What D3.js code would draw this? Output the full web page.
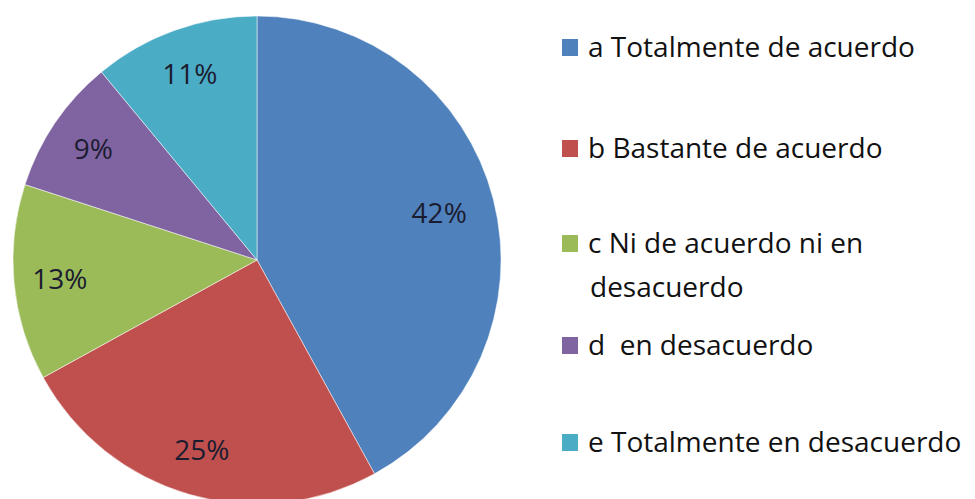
<!DOCTYPE html>
<html>
<head>
<meta charset="utf-8">
<script src="https://cdn.jsdelivr.net/npm/d3@7"></script>
<style>
  body { margin: 0; background: #fff; }
  text { font-family: "Open Sans", sans-serif; }
</style>
</head>
<body>
<div id="chart"></div>
<script>
const categories = [
    'a Totalmente de acuerdo',
    'b Bastante de acuerdo',
    'c Ni de acuerdo ni en desacuerdo',
    'd  en desacuerdo',
    'e Totalmente en desacuerdo'
];
const values = [42, 25, 13, 9, 11];
const colors = ['#4f81bd', '#c0504d', '#9bbb59', '#8064a2', '#4bacc6'];

const width = 975, height = 499;
const radius = 244;

const svg = d3.select('#chart')
    .append('svg')
    .attr('width', width)
    .attr('height', height);

const g = svg.append('g')
    .attr('transform', `translate(257, 260)`);

const color = d3.scaleOrdinal()
    .domain(categories)
    .range(colors);

const pie = d3.pie()
    .value(d => d.value)
    .sort(null);

const data = categories.map((c, i) => ({ name: c, value: values[i] }));
const total = d3.sum(values);

const arc = d3.arc()
    .outerRadius(radius)
    .innerRadius(0);

// centroid of this arc sits at ~198px from the centre
const labelArc = d3.arc()
    .outerRadius(396)
    .innerRadius(0);

const slices = g.selectAll('.pie')
    .data(pie(data))
    .enter()
    .append('g')
    .attr('class', 'pie');

slices.append('path')
    .attr('d', arc)
    .attr('fill', d => color(d.data.name))
    .attr('stroke', 'rgba(255,255,255,0.5)')
    .attr('stroke-width', 1);

slices.append('text')
    .attr('transform', d => {
        const [x, y] = labelArc.centroid(d);
        // the big slice label sits a bit closer in
        const k = d.index === 0 ? 0.95 : 1;
        return `translate(${x * k}, ${y * k})`;
    })
    .attr('text-anchor', 'middle')
    .attr('dy', '0.36em')
    .attr('font-size', 28)
    .attr('fill', '#1c1c30')
    .text(d => Math.round(d.data.value / total * 100) + '%');

// legend
const legendY = [47, 148, 243, 345, 442];
const legend = svg.append('g').attr('class', 'legend');

const items = legend.selectAll('.item')
    .data(data)
    .enter()
    .append('g')
    .attr('class', 'item')
    .attr('transform', (d, i) => `translate(562, ${legendY[i]})`);

items.append('rect')
    .attr('x', 0)
    .attr('y', -8)
    .attr('width', 16)
    .attr('height', 17)
    .attr('fill', d => color(d.name));

items.append('text')
    .attr('x', 26)
    .attr('dy', '0.36em')
    .attr('font-size', 28)
    .attr('fill', '#111')
    .attr('xml:space', 'preserve')
    .each(function (d) {
        const t = d3.select(this);
        if (d.name.startsWith('c ')) {
            t.append('tspan').attr('x', 26).text('c Ni de acuerdo ni en');
            t.append('tspan').attr('x', 28).attr('dy', 44).text('desacuerdo');
        } else {
            t.text(d.name);
        }
    });
</script>
</body>
</html>
